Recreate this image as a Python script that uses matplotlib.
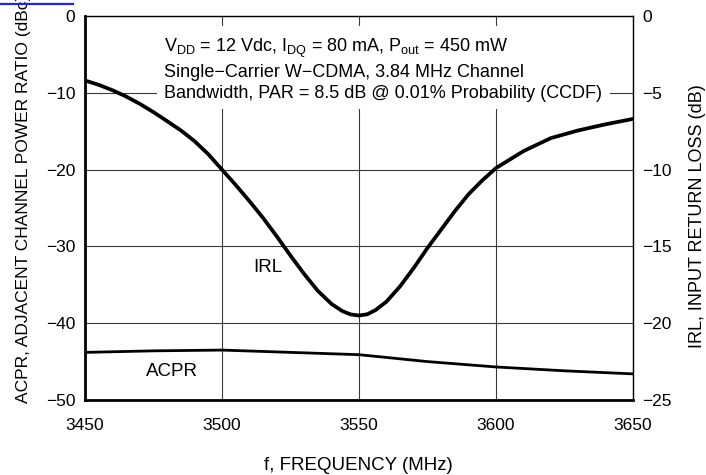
"""ACPR and input return loss versus frequency (W-CDMA)."""

from __future__ import annotations

import matplotlib

matplotlib.use("Agg")
import matplotlib.pyplot as plt
from matplotlib.lines import Line2D

FONT_FAMILY = ["Liberation Sans", "DejaVu Sans"]

# IRL, input return loss (dB), right axis
irl_freq_mhz = [
    3450, 3455, 3460, 3465, 3470, 3475, 3480, 3485, 3490, 3495,
    3500, 3505, 3510, 3515, 3520, 3525, 3530, 3535, 3540, 3544,
    3547, 3550, 3553, 3556, 3560, 3565, 3570, 3575, 3580, 3585, 3590, 3595,
    3600, 3610, 3620, 3630, 3640, 3650,
]
irl_db = [
    -4.2, -4.48, -4.83, -5.24, -5.72, -6.26, -6.85, -7.45, -8.15, -9.0,
    -10.0, -11.0, -12.05, -13.15, -14.35, -15.6, -16.8, -17.9, -18.75, -19.22,
    -19.43, -19.5, -19.42, -19.15, -18.6, -17.6, -16.4, -15.1, -13.9, -12.7, -11.6, -10.7,
    -9.9, -8.8, -7.95, -7.45, -7.05, -6.7,
]

# ACPR, adjacent channel power ratio (dBc), left axis
acpr_freq_mhz = [3450, 3475, 3500, 3525, 3550, 3575, 3600, 3625, 3650]
acpr_dbc = [-43.8, -43.6, -43.5, -43.8, -44.1, -45.0, -45.7, -46.2, -46.6]

freq_ticks = [3450, 3500, 3550, 3600, 3650]
acpr_ticks = [0, -10, -20, -30, -40, -50]
irl_ticks = [0, -5, -10, -15, -20, -25]

CONDITIONS = (
    r"V$_{\mathrm{DD}}$ = 12 Vdc, I$_{\mathrm{DQ}}$ = 80 mA, P$_{\mathrm{out}}$ = 450 mW"
    "\nSingle\u2212Carrier W\u2212CDMA, 3.84 MHz Channel"
    "\nBandwidth, PAR = 8.5 dB @ 0.01% Probability (CCDF)"
)

TICK_SIZE = 12.5
LABEL_SIZE = 12.5


def style_axes(ax, ax_r) -> None:
    """Frame, grid and tick styling."""
    for name, spine in ax.spines.items():
        spine.set_linewidth(2.0 if name in ("left", "bottom") else 1.0)
    for spine in ax_r.spines.values():
        spine.set_visible(False)
    ax.grid(True, color="#3a3a3a", linewidth=0.8)
    ax.set_axisbelow(True)
    ax.tick_params(axis="x", length=0, pad=13, labelsize=TICK_SIZE)
    ax.tick_params(axis="y", length=0, pad=7, labelsize=TICK_SIZE)
    ax_r.tick_params(axis="y", length=0, pad=6.5, labelsize=TICK_SIZE)


def main() -> None:
    plt.rcParams["font.family"] = FONT_FAMILY
    plt.rcParams["mathtext.fontset"] = "custom"
    plt.rcParams["mathtext.rm"] = "Liberation Sans"
    plt.rcParams["axes.unicode_minus"] = True

    fig = plt.figure(figsize=(7.06, 4.75), dpi=100)
    ax = fig.add_axes([0.1204, 0.1579, 0.7762, 0.8084])
    ax_r = ax.twinx()

    ax.plot(acpr_freq_mhz, acpr_dbc, color="black", linewidth=2.0)
    ax_r.plot(irl_freq_mhz, irl_db, color="black", linewidth=2.7,
              solid_joinstyle="round")

    ax.set_xlim(3450, 3650)
    ax.set_ylim(-50, 0)
    ax_r.set_ylim(-25, 0)
    ax.set_xticks(freq_ticks)
    ax.set_yticks(acpr_ticks)
    ax_r.set_yticks(irl_ticks)
    style_axes(ax, ax_r)

    ax.set_xlabel("f, FREQUENCY (MHz)", fontsize=13.5)
    ax.xaxis.set_label_coords(0.498, -0.148)
    ax.set_ylabel("ACPR, ADJACENT CHANNEL POWER RATIO (dBc)", fontsize=LABEL_SIZE)
    ax.yaxis.label.set_va("center")
    ax.yaxis.set_label_coords(-0.113, 0.525)
    ax_r.set_ylabel("IRL, INPUT RETURN LOSS (dB)", fontsize=13)
    ax_r.yaxis.label.set_va("center")
    ax_r.yaxis.set_label_coords(1.117, 0.479)

    ax_r.text(
        3479, -3.5, CONDITIONS, fontsize=13, ha="left", va="center",
        linespacing=1.3, zorder=5,
        bbox=dict(boxstyle="square,pad=0.4", facecolor="white", edgecolor="none"),
    )
    ax.text(3516.8, -32.8, "IRL", fontsize=13.5, ha="center", va="center")
    ax.text(3481.8, -46.35, "ACPR", fontsize=13.5, ha="center", va="center")

    # stray link underline in the source page
    fig.add_artist(Line2D([0, 0.104], [0.9916, 0.9916], color="#1f1fff",
                          linewidth=1.6, transform=fig.transFigure))

    fig.savefig("out.png", dpi=100)
    plt.close(fig)


if __name__ == "__main__":
    main()
